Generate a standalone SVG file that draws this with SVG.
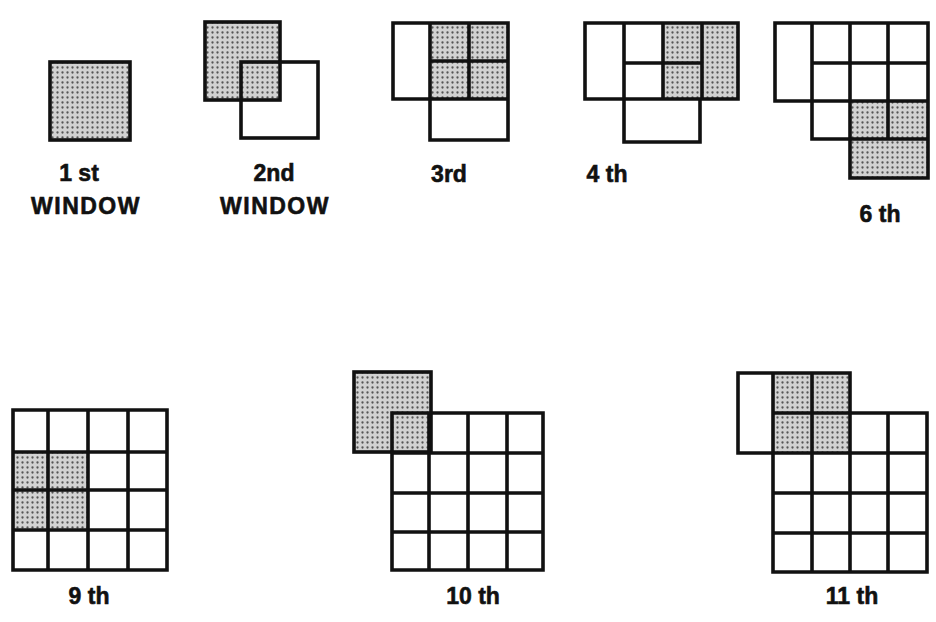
<svg xmlns="http://www.w3.org/2000/svg" width="936" height="622" viewBox="0 0 936 622">
<defs>
<pattern id="dots" width="5" height="5" patternUnits="userSpaceOnUse">
<rect width="5" height="5" fill="#d2d2d2"/>
<circle cx="2.5" cy="2.5" r="1.15" fill="#555555"/>
</pattern>
</defs>
<style>
.ln{fill:none;stroke:#111;stroke-width:3.6;stroke-linejoin:miter;stroke-linecap:square}
.sh{fill:url(#dots);stroke:none}
.lb{font-family:"Liberation Sans",Arial,sans-serif;font-weight:bold;font-size:23px;fill:#111;stroke:#111;stroke-width:0.6;text-anchor:middle}
</style>
<rect width="936" height="622" fill="#ffffff"/>

<g id="fig1">
<rect class="sh" x="50" y="62" width="80" height="78"/>
<rect class="ln" x="50" y="62" width="80" height="78"/>
<text class="lb" x="79" y="181">1 st</text>
<text class="lb" x="86" y="214" letter-spacing="1.5">WINDOW</text>
</g>

<g id="fig2">
<rect class="sh" x="205" y="22" width="75" height="78"/>
<rect class="ln" x="205" y="22" width="75" height="78"/>
<rect class="ln" x="241" y="62" width="77" height="76"/>
<text class="lb" x="274" y="181">2nd</text>
<text class="lb" x="275" y="214" letter-spacing="1.5">WINDOW</text>
</g>

<g id="fig3">
<rect class="sh" x="430" y="23" width="78" height="76"/>
<path class="ln" d="M393,23 H508 V140 H430 V99 H393 Z M430,23 V99 M469,23 V99 M430,61 H508 M430,99 H508"/>
<text class="lb" x="449" y="182">3rd</text>
</g>

<g id="fig4">
<rect class="sh" x="663" y="23" width="75" height="76"/>
<path class="ln" d="M585,23 H738 V99 H700 V142 H624 V99 H585 Z M624,23 V99 M663,23 V99 M702,23 V99 M624,63 H702 M624,99 H700"/>
<text class="lb" x="607" y="182">4 th</text>
</g>

<g id="fig6">
<rect class="sh" x="850" y="101" width="78" height="77"/>
<path class="ln" d="M775,23 H928 V178 H850 V139 H812 V101 H775 Z M812,23 V139 M850,23 V139 M888,23 V139 M812,63 H928 M775,101 H928 M812,139 H928"/>
<text class="lb" x="880" y="222">6 th</text>
</g>

<g id="fig9">
<rect class="sh" x="13" y="452" width="75" height="78"/>
<path class="ln" d="M13,410 H167 V570 H13 Z M48,410 V570 M88,410 V570 M128,410 V570 M13,452 H167 M13,490 H167 M13,530 H167"/>
<text class="lb" x="89" y="604">9 th</text>
</g>

<g id="fig10">
<rect class="sh" x="354" y="372" width="77" height="80"/>
<rect class="ln" x="354" y="372" width="77" height="80"/>
<path class="ln" d="M392,413 H543 V570 H392 Z M429,413 V570 M468,413 V570 M507,413 V570 M392,453 H543 M392,493 H543 M392,532 H543"/>
<text class="lb" x="473" y="604">10 th</text>
</g>

<g id="fig11">
<rect class="sh" x="773" y="373" width="77" height="80"/>
<path class="ln" d="M738,373 H850 V413 H927 V572 H773 V453 H738 Z M773,373 V453 M812,373 V572 M850,413 V572 M888,413 V572 M773,413 H927 M773,453 H927 M773,493 H927 M773,533 H927"/>
<text class="lb" x="852" y="604">11 th</text>
</g>
</svg>
